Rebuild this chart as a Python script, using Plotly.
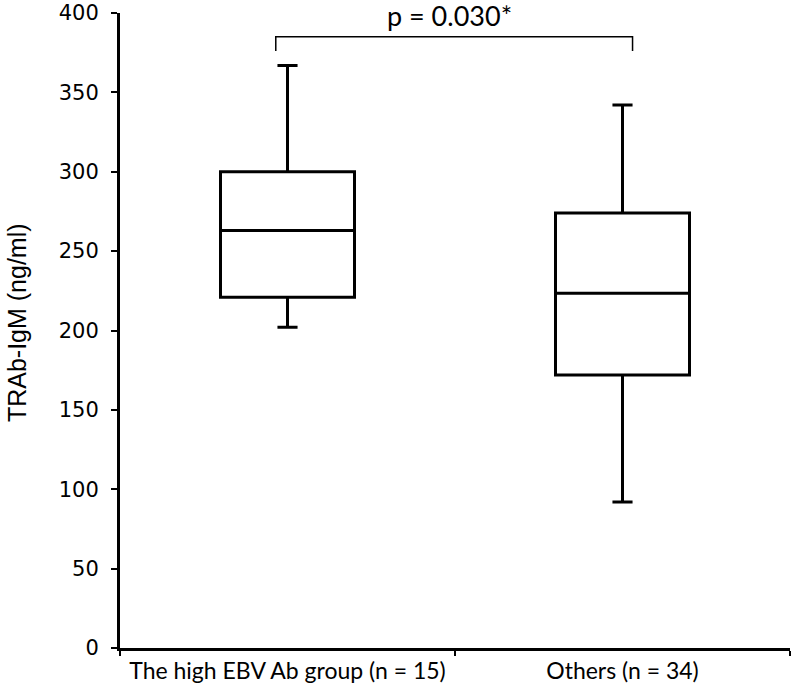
import plotly.graph_objects as go

categories = ["The high EBV Ab group (n = 15)", "Others (n = 34)"]
lower_whisker = [202, 92]
q1 = [221, 172]
median = [263, 223.5]
q3 = [300, 274]
upper_whisker = [367, 342]
y_ticks = [0, 50, 100, 150, 200, 250, 300, 350, 400]
y_title = "TRAb-IgM (ng/ml)"
p_text = "p = 0.030*"
bracket_x = [-0.035, 1.03]
bracket_y = 385
bracket_drop = 376

fig = go.Figure()
fig.add_trace(go.Box(
    x=[0, 1],
    q1=q1, median=median, q3=q3,
    lowerfence=lower_whisker, upperfence=upper_whisker,
    width=0.4, whiskerwidth=0.15,
    line=dict(color="black", width=3),
    fillcolor="white",
    boxpoints=False,
    showlegend=False,
))

# significance bracket
fig.add_trace(go.Scatter(
    x=[bracket_x[0], bracket_x[0], bracket_x[1], bracket_x[1]],
    y=[bracket_drop, bracket_y, bracket_y, bracket_drop],
    mode="lines", line=dict(color="black", width=1.5),
    showlegend=False, hoverinfo="skip",
))
fig.add_annotation(x=sum(bracket_x) / 2 - 0.015, y=bracket_y, yshift=3, text=p_text, showarrow=False,
                   yanchor="bottom", font=dict(size=27, color="black", family="Lato"))

fig.add_annotation(xref="paper", yref="paper", x=-0.154, y=0.513, text=y_title,
                   textangle=-90, showarrow=False, xanchor="center", yanchor="middle",
                   font=dict(size=25, color="black", family="Liberation Sans"))

fig.update_layout(
    width=792, height=697,
    margin=dict(l=120, r=2, t=13, b=49),
    plot_bgcolor="white", paper_bgcolor="white",
    font=dict(family="Lato", color="black"),
)
fig.update_xaxes(
    range=[-0.5, 1.5], tickvals=[0, 1], ticktext=categories,
    ticks="", showgrid=False, zeroline=False, automargin=False,
    showline=True, linecolor="black", linewidth=3,
    tickfont=dict(size=23, family="Lato"),
    minor=dict(tickvals=[-0.5, 0.5, 1.5], ticks="outside", ticklen=5, tickwidth=2, tickcolor="black", showgrid=False),
)
fig.update_yaxes(
    range=[0, 400], tickvals=y_ticks, ticks="outside", ticklen=6, tickwidth=2, tickcolor="black",
    showgrid=False, zeroline=False, showline=True, linecolor="black", linewidth=3,
    automargin=False, ticklabelstandoff=8,
    tickfont=dict(size=21, family="DejaVu Sans"),
)

fig.write_html("out.html", config={"displayModeBar": False},
               post_script="document.body.style.margin='0';")
